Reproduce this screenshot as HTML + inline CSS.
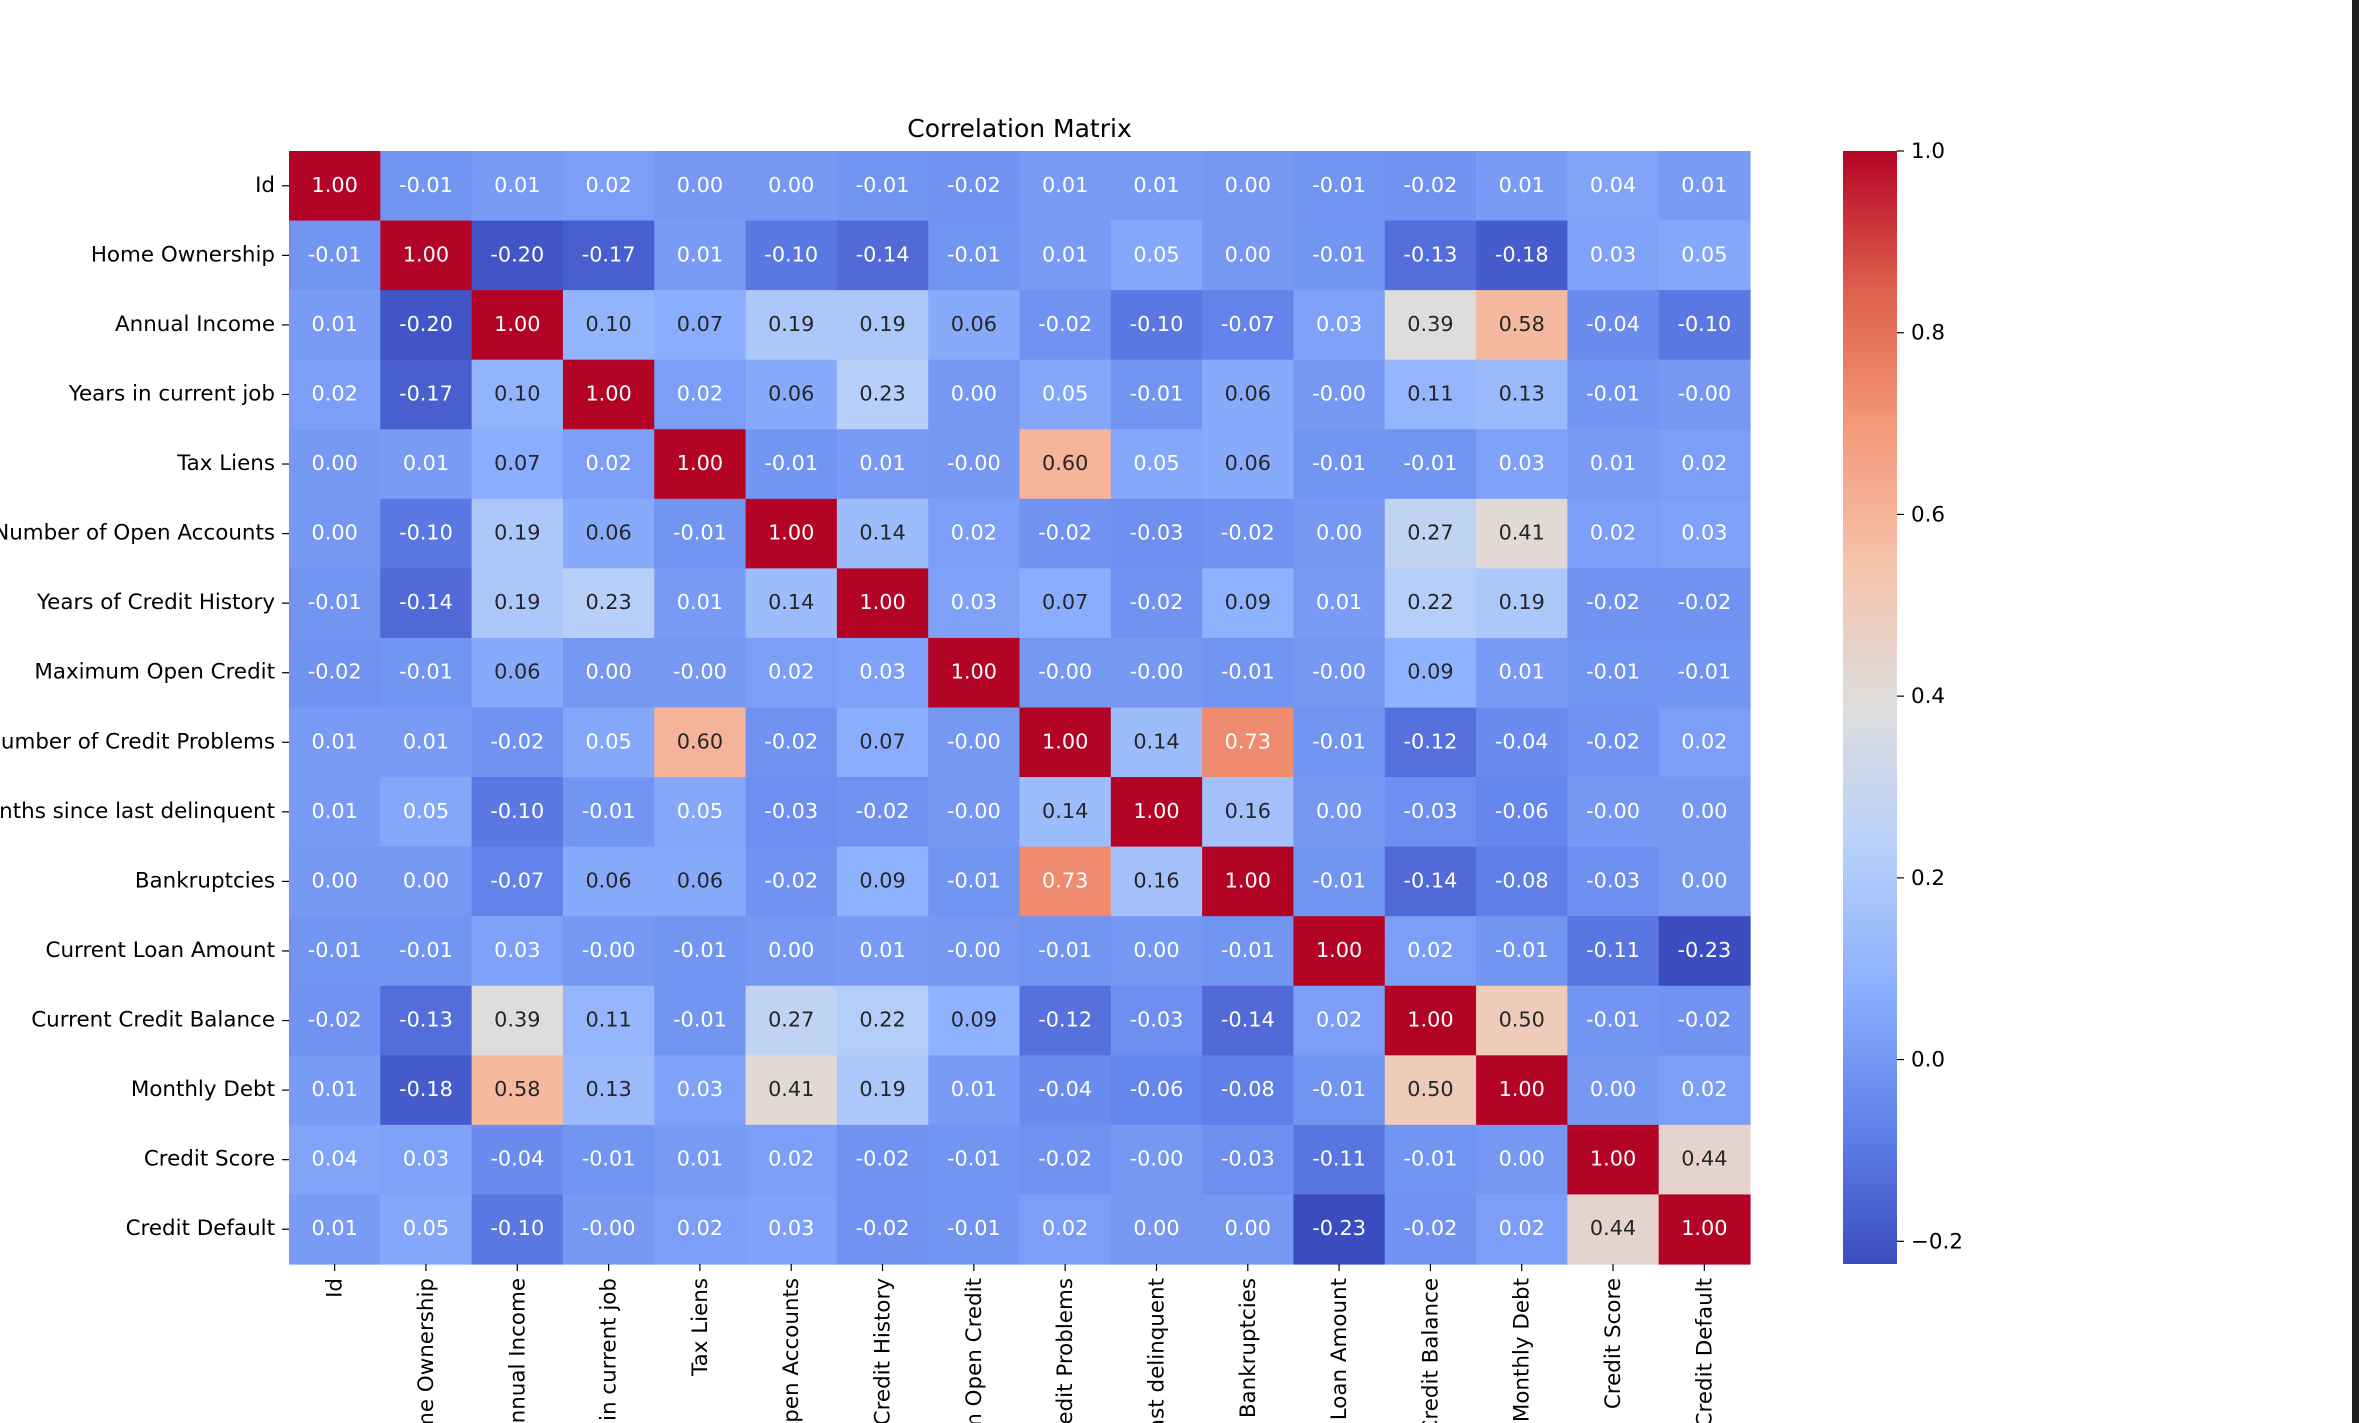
<!DOCTYPE html>
<html><head><meta charset="utf-8"><style>
html,body{margin:0;padding:0;background:#fff;width:2359px;height:1423px;overflow:hidden}
svg{display:block;overflow:hidden;font-family:"DejaVu Sans","Liberation Sans",sans-serif}
</style></head><body>
<svg id="chart" width="2359" height="1423" viewBox="0 0 2359 1423" xmlns="http://www.w3.org/2000/svg">
<rect x="0" y="0" width="2359" height="1423" fill="#fff"/>
<rect x="2352" y="0" width="7" height="1423" fill="#1e1e1e"/>
<text x="1019.5" y="137" font-size="25" text-anchor="middle" fill="#000">Correlation Matrix</text>
<g id="cells"></g><g id="ylabels"></g><g id="xlabels"></g><g id="cbar"></g>
</svg>
<script>
const labels = ["Id","Home Ownership","Annual Income","Years in current job","Tax Liens","Number of Open Accounts","Years of Credit History","Maximum Open Credit","Number of Credit Problems","Months since last delinquent","Bankruptcies","Current Loan Amount","Current Credit Balance","Monthly Debt","Credit Score","Credit Default"];
const rowId   = [1.00,-0.01,0.01,0.02,0.00,0.00,-0.01,-0.02,0.01,0.01,0.00,-0.01,-0.02,0.01,0.04,0.01];
const rowHome = [-0.01,1.00,-0.20,-0.17,0.01,-0.10,-0.14,-0.01,0.01,0.05,0.00,-0.01,-0.13,-0.18,0.03,0.05];
const rowInc  = [0.01,-0.20,1.00,0.10,0.07,0.19,0.19,0.06,-0.02,-0.10,-0.07,0.03,0.39,0.58,-0.04,-0.10];
const rowJob  = [0.02,-0.17,0.10,1.00,0.02,0.06,0.23,0.00,0.05,-0.01,0.06,-0,0.11,0.13,-0.01,-0];
const rowTax  = [0.00,0.01,0.07,0.02,1.00,-0.01,0.01,-0,0.60,0.05,0.06,-0.01,-0.01,0.03,0.01,0.02];
const rowNOA  = [0.00,-0.10,0.19,0.06,-0.01,1.00,0.14,0.02,-0.02,-0.03,-0.02,0.00,0.27,0.41,0.02,0.03];
const rowYCH  = [-0.01,-0.14,0.19,0.23,0.01,0.14,1.00,0.03,0.07,-0.02,0.09,0.01,0.22,0.19,-0.02,-0.02];
const rowMOC  = [-0.02,-0.01,0.06,0.00,-0,0.02,0.03,1.00,-0,-0,-0.01,-0,0.09,0.01,-0.01,-0.01];
const rowNCP  = [0.01,0.01,-0.02,0.05,0.60,-0.02,0.07,-0,1.00,0.14,0.73,-0.01,-0.12,-0.04,-0.02,0.02];
const rowMSLD = [0.01,0.05,-0.10,-0.01,0.05,-0.03,-0.02,-0,0.14,1.00,0.16,0.00,-0.03,-0.06,-0,0.00];
const rowBank = [0.00,0.00,-0.07,0.06,0.06,-0.02,0.09,-0.01,0.73,0.16,1.00,-0.01,-0.14,-0.08,-0.03,0.00];
const rowCLA  = [-0.01,-0.01,0.03,-0,-0.01,0.00,0.01,-0,-0.01,0.00,-0.01,1.00,0.02,-0.01,-0.11,-0.23];
const rowCCB  = [-0.02,-0.13,0.39,0.11,-0.01,0.27,0.22,0.09,-0.12,-0.03,-0.14,0.02,1.00,0.50,-0.01,-0.02];
const rowMD   = [0.01,-0.18,0.58,0.13,0.03,0.41,0.19,0.01,-0.04,-0.06,-0.08,-0.01,0.50,1.00,0.00,0.02];
const rowCS   = [0.04,0.03,-0.04,-0.01,0.01,0.02,-0.02,-0.01,-0.02,-0,-0.03,-0.11,-0.01,0.00,1.00,0.44];
const rowCD   = [0.01,0.05,-0.10,-0,0.02,0.03,-0.02,-0.01,0.02,0.00,0.00,-0.23,-0.02,0.02,0.44,1.00];
const matrix = [rowId,rowHome,rowInc,rowJob,rowTax,rowNOA,rowYCH,rowMOC,rowNCP,rowMSLD,rowBank,rowCLA,rowCCB,rowMD,rowCS,rowCD];
const cbarTicks = [-0.2,0.0,0.2,0.4,0.6,0.8,1.0];
const vmin = -0.225, vmax = 1.0;

const NS="http://www.w3.org/2000/svg";
const L=289,R=1750,T=151,B=1264;
const FS=20.8;
const n=labels.length, cw=(R-L)/n, ch=(B-T)/n;
const xPos=i=>L+i*cw, yPos=i=>T+i*ch;
const stops=[[0,[59,76,192]],[0.125,[98,130,234]],[0.25,[141,176,254]],[0.375,[184,208,249]],[0.5,[221,221,221]],[0.625,[245,196,173]],[0.75,[244,154,123]],[0.875,[222,96,77]],[1,[180,4,38]]];
function cmap(v){let t=(v-vmin)/(vmax-vmin);t=Math.max(0,Math.min(1,t));
 for(let i=1;i<stops.length;i++){if(t<=stops[i][0]){const a=stops[i-1],b=stops[i],f=(t-a[0])/(b[0]-a[0]);
  return a[1].map((c,k)=>Math.round(c+(b[1][k]-c)*f));}}return stops[stops.length-1][1];}
function lum(c){const l=c.map(x=>{x/=255;return x<=0.03928?x/12.92:Math.pow((x+0.055)/1.055,2.4)});return 0.2126*l[0]+0.7152*l[1]+0.0722*l[2];}
function mk(tag,attrs,parent){const e=document.createElementNS(NS,tag);for(const k in attrs)e.setAttribute(k,attrs[k]);parent.appendChild(e);return e;}
function fmt(v){return (Object.is(v,-0)?"-":"")+v.toFixed(2);}
const cells=document.getElementById('cells');
matrix.forEach((row,r)=>row.forEach((v,c)=>{
 const col=cmap(v);
 const rect=mk('rect',{x:xPos(c),y:yPos(r),width:cw+0.6,height:ch+0.6,fill:`rgb(${col})`},cells);
 
 
 const t=mk('text',{x:xPos(c)+cw/2,y:yPos(r)+ch/2+6,'font-size':FS,'text-anchor':'middle',fill:lum(col)>0.408?'#262626':'#fff'},cells);
 t.textContent=fmt(v);
 
 
}));
const yl=document.getElementById('ylabels'), xl=document.getElementById('xlabels');
labels.forEach((lab,i)=>{
 const cy=yPos(i)+ch/2;
 mk('line',{x1:L-7,x2:L,y1:cy,y2:cy,stroke:'#000','stroke-width':1.2},yl);
 const t=mk('text',{x:L-14,y:cy+6,'font-size':FS*1.03,'text-anchor':'end',fill:'#000'},yl);
 t.textContent=lab;
 
 
 const cx=xPos(i)+cw/2;
 mk('line',{x1:cx,x2:cx,y1:B,y2:B+7,stroke:'#000','stroke-width':1.2},xl);
 const u=mk('text',{x:0,y:0,'font-size':FS*1.03,'text-anchor':'end',fill:'#000',transform:`translate(${cx+7},${B+14}) rotate(-90)`},xl);
 u.textContent=lab;
 
 
});
const cb=document.getElementById('cbar');
const CL=1843,CR=1897;
const cy=v=>B-(v-vmin)/(vmax-vmin)*(B-T);
const defs=mk('defs',{},cb);
const g=mk('linearGradient',{id:'cg',x1:0,y1:1,x2:0,y2:0},defs);
for(let i=0;i<=40;i++){const v=vmin+(vmax-vmin)*i/40;mk('stop',{offset:i/40,'stop-color':`rgb(${cmap(v)})`},g);}
const bar=mk('rect',{x:CL,y:T,width:CR-CL,height:B-T,fill:'url(#cg)'},cb);


cbarTicks.forEach(v=>{const y=cy(v);
 mk('line',{x1:CR,x2:CR+7,y1:y,y2:y,stroke:'#000','stroke-width':1.2},cb);
 const t=mk('text',{x:CR+14,y:y+7,'font-size':FS*1.03,fill:'#000'},cb);
 t.textContent=(v<0?'\u22120.2':v.toFixed(1));
 
 
});
</script>
</body></html>
